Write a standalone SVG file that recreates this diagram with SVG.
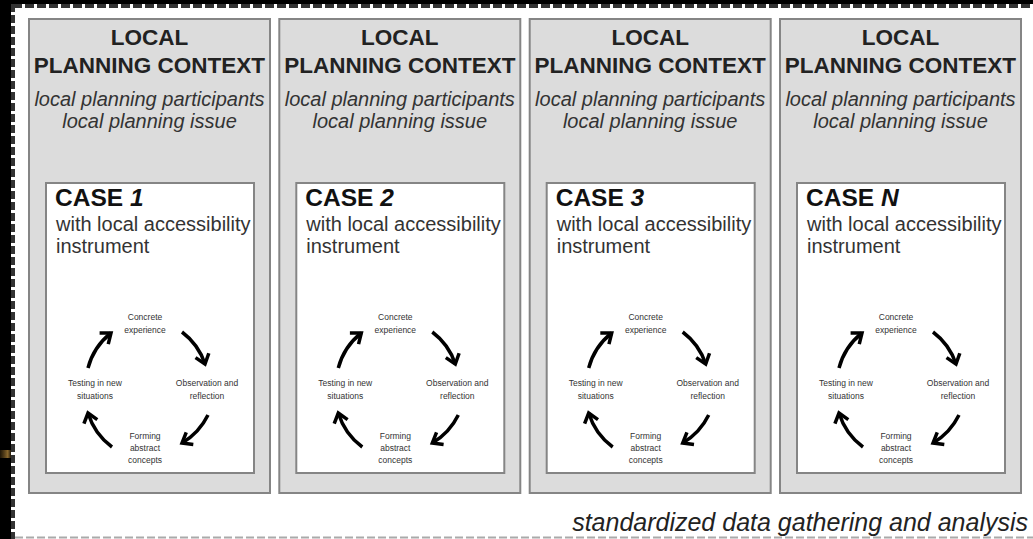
<svg xmlns="http://www.w3.org/2000/svg" width="1033" height="539" viewBox="0 0 1033 539">
<style>
.panel{fill:#dcdcdc;stroke:#858585;stroke-width:2}
.inner{fill:#fff;stroke:#858585;stroke-width:2}
.t1{font-family:"Liberation Sans",Arial,sans-serif;font-weight:bold;font-size:22.5px;fill:#222;text-anchor:middle}
.t2{font-family:"Liberation Sans",Arial,sans-serif;font-style:italic;font-size:20px;fill:#333;text-anchor:middle}
.case{font-family:"Liberation Sans",Arial,sans-serif;font-weight:bold;font-size:24.5px;fill:#111}
.sub{font-family:"Liberation Sans",Arial,sans-serif;font-size:20px;fill:#333}
.lab{font-family:"Liberation Sans",Arial,sans-serif;font-size:8.5px;fill:#333;text-anchor:middle}
.arc{fill:none;stroke:#000;stroke-width:3.5;marker-end:url(#ah)}
.foot{font-family:"Liberation Sans",Arial,sans-serif;font-style:italic;font-size:25px;fill:#222;text-anchor:end}
</style>
<defs>
<marker id="ah" viewBox="-14 -10 18 20" markerWidth="18" markerHeight="20" refX="0" refY="0" orient="auto" markerUnits="userSpaceOnUse">
<path d="M-9,-7 L0,0 L-9,7" fill="none" stroke="#000" stroke-width="3.5"/>
</marker>
<linearGradient id="gold" x1="0" y1="0" x2="1" y2="0">
<stop offset="0" stop-color="#6b4d1c" stop-opacity="0.3"/>
<stop offset="0.7" stop-color="#9a7432" stop-opacity="0.9"/>
<stop offset="1" stop-color="#9a7432" stop-opacity="0.2"/>
</linearGradient>
<g id="cell">
<rect class="panel" x="0" y="19" width="241" height="474"/>
<text class="t1" x="120.5" y="45">LOCAL</text>
<text class="t1" x="120.5" y="73">PLANNING CONTEXT</text>
<text class="t2" x="120.5" y="106">local planning participants</text>
<text class="t2" x="120.5" y="128">local planning issue</text>
<rect class="inner" x="17" y="183" width="208" height="290"/>
<text class="sub" x="27" y="231">with local accessibility</text>
<text class="sub" x="27" y="252.5">instrument</text>
<text class="lab" x="116" y="320">Concrete</text>
<text class="lab" x="116" y="333">experience</text>
<text class="lab" x="66" y="386">Testing in new</text>
<text class="lab" x="66" y="399">situations</text>
<text class="lab" x="178" y="386">Observation and</text>
<text class="lab" x="178" y="399">reflection</text>
<text class="lab" x="116" y="439">Forming</text>
<text class="lab" x="116" y="451">abstract</text>
<text class="lab" x="116" y="463">concepts</text>
</g>
</defs>
<rect x="0" y="0" width="1033" height="539" fill="#000"/>
<rect x="11" y="4" width="1022" height="535" fill="#fff"/>
<rect x="0" y="450" width="11" height="8" fill="url(#gold)"/>
<line x1="13" y1="6" x2="1033" y2="6" stroke="#333" stroke-width="4" stroke-dasharray="9 3"/>
<line x1="13" y1="4" x2="13" y2="539" stroke="#333" stroke-width="4" stroke-dasharray="8 3"/>
<line x1="15" y1="537.5" x2="1033" y2="537.5" stroke="#aaa" stroke-width="2" stroke-dasharray="8 3"/>
<g id="case1" transform="translate(29,0)">
<use href="#cell"/>
<text class="case" x="26" y="206">CASE <tspan font-style="italic">1</tspan></text>
</g>
<g id="case2" transform="translate(279.3,0)">
<use href="#cell"/>
<text class="case" x="26" y="206">CASE <tspan font-style="italic">2</tspan></text>
</g>
<g id="case3" transform="translate(529.7,0)">
<use href="#cell"/>
<text class="case" x="26" y="206">CASE <tspan font-style="italic">3</tspan></text>
</g>
<g id="caseN" transform="translate(780,0)">
<use href="#cell"/>
<text class="case" x="26" y="206">CASE <tspan font-style="italic">N</tspan></text>
</g>
<g id="connectors">
<g transform="translate(29,0)">
<path class="arc" d="M153,332 A66,66 0 0 1 176,364"/>
<path class="arc" d="M179,415 A66,66 0 0 1 153,443"/>
<path class="arc" d="M83,447 A66,66 0 0 1 59,413"/>
<path class="arc" d="M59,368 A66,66 0 0 1 82,333"/>
</g>
<g transform="translate(279.3,0)">
<path class="arc" d="M153,332 A66,66 0 0 1 176,364"/>
<path class="arc" d="M179,415 A66,66 0 0 1 153,443"/>
<path class="arc" d="M83,447 A66,66 0 0 1 59,413"/>
<path class="arc" d="M59,368 A66,66 0 0 1 82,333"/>
</g>
<g transform="translate(529.7,0)">
<path class="arc" d="M153,332 A66,66 0 0 1 176,364"/>
<path class="arc" d="M179,415 A66,66 0 0 1 153,443"/>
<path class="arc" d="M83,447 A66,66 0 0 1 59,413"/>
<path class="arc" d="M59,368 A66,66 0 0 1 82,333"/>
</g>
<g transform="translate(780,0)">
<path class="arc" d="M153,332 A66,66 0 0 1 176,364"/>
<path class="arc" d="M179,415 A66,66 0 0 1 153,443"/>
<path class="arc" d="M83,447 A66,66 0 0 1 59,413"/>
<path class="arc" d="M59,368 A66,66 0 0 1 82,333"/>
</g>
</g>
<text class="foot" x="1028" y="531">standardized data gathering and analysis</text>
</svg>
